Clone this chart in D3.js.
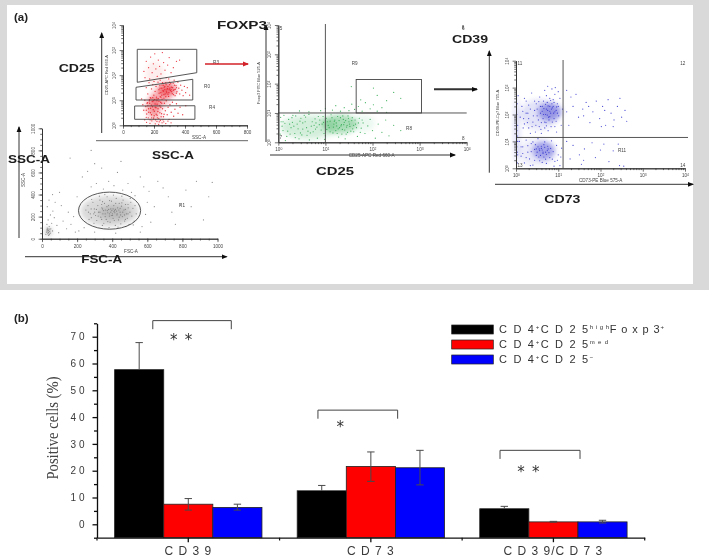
<!DOCTYPE html>
<html><head><meta charset="utf-8">
<script src="https://cdn.jsdelivr.net/npm/d3@7/dist/d3.min.js"></script>
<style>
html,body{margin:0;padding:0;background:#fff}
svg{display:block}
</style></head><body><svg id="c" width="709" height="558" font-family="'Liberation Sans',Arial,sans-serif"></svg>
<script>
// ---------- panel (b) data ----------
const categories = ["C D 3 9","C D 7 3","C D 3 9/C D 7 3"];
const seriesNames = ["high","med","neg"];
const seriesColors = ["#000000","#ff0000","#0000ff"];
const highValues = [57.7,12.5,5.8];
const highErrUp  = [67.8,14.5,6.7];
const medValues  = [7.5,21.6,0.9];
const medErrUp   = [9.6,27.0,1.1];
const medErrLow  = [5.3,16.0,0.8];
const negValues  = [6.3,21.1,0.9];
const negErrUp   = [7.5,27.6,1.5];
const negErrLow  = [5.3,14.7,0.5];
const yMajorTicks = [0,10,20,30,40,50,60,70];
const yMinorTicks = [-5,5,15,25,35,45,55,65,75];

// ---------- panel (a) data: [x, y], log axes as decades (exponents) ----------
const grayPoints = [[250,260],[262,300],[275,225],[281,190],[290,330],[298,270],[305,210],[312,165],[318,300],[322,240],[330,350],[335,195],[341,280],[347,225],[352,140],[356,320],[361,260],[366,175],[371,380],[375,235],[379,300],[384,205],[388,150],[392,270],[396,340],[401,225],[405,185],[409,300],[414,255],[418,120],[423,365],[427,215],[431,280],[436,170],[440,320],[445,240],[449,135],[453,295],[458,200],[462,350],[467,260],[471,160],[476,310],[481,225],[486,185],[491,280],[496,130],[501,240],[506,330],[512,205],[518,275],[525,160],[530,300],[537,225],[268,175],[283,355],[296,140],[327,385],[344,120],[358,400],[382,100],[407,395],[433,105],[455,385],[478,110],[503,365],[520,125],[340,310],[370,290],[395,210],[415,235],[425,250],[380,265],[360,225],[350,255],[405,270],[445,275],[470,215],[300,240],[320,205],
[330,240],[345,270],[360,200],[372,255],[385,225],[392,240],[398,255],[402,210],[410,245],[418,265],[428,225],[438,260],[448,215],[460,240],[475,265],[490,225],[310,265],[295,225],[280,270],[265,240],[340,175],[375,155],[412,165],[440,195],[475,175],[345,335],[385,345],[420,320],[455,325],[490,310],[30,70],[35,55],[40,90],[45,80],[33,85],[42,40],[38,60],[28,80],
[25,60],[30,95],[33,45],[36,75],[38,30],[41,110],[44,65],[47,50],[50,90],[28,130],[55,140],[35,170],[60,70],[22,40],[48,215],[70,190],[62,250],[30,290],[85,120],[95,55],[110,300],[120,160],[140,90],[150,240],[165,130],[180,200],[190,60],[75,330],[60,400],[100,420],[40,350],
[200,380],[230,560],[260,610],[280,470],[310,500],[340,640],[350,450],[380,520],[410,480],[430,600],[460,440],[490,500],[510,420],[530,390],[560,560],[580,470],[600,330],[610,430],[640,290],[660,520],[690,460],[720,380],[740,240],[760,130],[790,310],[820,440],[850,290],[880,520],[920,170],[950,380],[970,510],[590,220],[620,150],[570,110],[240,100],[210,70],[300,60],[420,50],[560,60],[160,730],[280,800],[630,960],[450,700],[300,680]];
const grayClouds = [[385,250,165,140,.28],[410,235,90,70,.3],[36,65,18,40,.4]];

const redPoints = [[150,2.55],[165,2.3],[178,2.72],[188,2.1],[196,2.45],[205,2.85],[212,2.25],[221,1.95],[228,2.6],[236,2.35],[245,2.05],[254,2.9],[262,2.5],[271,2.2],[279,1.9],[288,2.4],[298,2.7],[310,2.1],[325,2.3],[345,2.55],[135,2.15],[142,1.9],[172,1.85],[200,1.75],[240,1.8],[295,1.85],[330,1.8],[365,2.6],
[150,1.5],[160,1.25],[168,1.7],[176,1.1],[184,1.45],[192,1.62],[199,1.2],[207,1.35],[213,1.55],[219,1.05],[226,1.72],[233,1.28],[239,1.48],[245,1.12],[252,1.6],[258,1.38],[264,1.22],[270,1.55],[276,1.7],[282,1.3],[288,1.46],[294,1.15],[300,1.62],[306,1.38],[312,1.52],[318,1.26],[324,1.68],[330,1.42],[336,1.18],[342,1.58],[348,1.34],[354,1.72],[360,1.48],[366,1.25],[372,1.6],[380,1.4],[388,1.18],[396,1.55],[404,1.3],[415,1.5],[430,1.2],
[232,1.42],[238,1.58],[244,1.3],[250,1.48],[255,1.7],[261,1.36],[266,1.52],[272,1.25],[278,1.62],[284,1.44],[290,1.55],[296,1.3],[302,1.48],[308,1.66],[314,1.34],[320,1.5],[326,1.22],[332,1.6],[338,1.44],[344,1.28],[298,1.42],[280,1.36],[262,1.6],[270,1.42],[290,1.24],[310,1.42],[250,1.2],[325,1.4],[300,1.72],[345,1.5],
[120,1.05],[128,.82],[134,.6],[141,1.0],[147,.75],[153,.45],[159,.9],[165,.66],[171,1.02],[177,.5],[183,.8],[189,.95],[195,.62],[201,.38],[207,.85],[213,.7],[219,.98],[225,.55],[231,.28],[237,.78],[243,.92],[249,.46],[255,.66],[261,.34],[267,.88],[273,.58],[279,.98],[285,.42],[291,.72],[297,.24],[303,.82],[311,.52],[319,.92],[327,.36],[335,.64],[345,.86],[355,.48],[368,.72],[385,.42],[405,.78],
[160,.78],[166,.52],[172,.88],[178,.68],[184,.42],[190,.74],[196,.98],[202,.56],[208,.72],[214,.44],[220,.84],[226,.66],[232,.96],[238,.5],[244,.72],[250,.88],[170,.98],[180,1.08],[192,1.1],[204,1.02],[216,1.12],[228,1.06],[240,1.14],[252,1.04],[264,1.08],[276,1.14],[150,.6],[155,.88],[198,.3],[210,.22],[222,.3],[234,.14],[246,.34],[258,.22],[185,.3],[175,.22],
[140,.22],[152,.12],[163,.3],[174,.08],[186,.18],[197,.26],[208,.06],[219,.16],[230,.04],[241,.2],[252,.1],[263,.14],[276,.07],[290,.17],[310,.1],[150,.32],[220,.4],[265,.44]];
const redClouds = [[285,1.42,58,.28,.6],[195,.75,45,.4,.45],[240,1.1,60,.4,.3],[215,.32,45,.22,.15],[205,2.05,60,.5,.07]];

const greenPoints = [[.05,.85],[.1,.4],[.14,.65],[.18,.2],[.22,.78],[.27,.5],[.31,.92],[.35,.3],[.4,.62],[.44,.12],[.48,.82],[.52,.45],[.57,.7],[.61,.24],[.65,.95],[.7,.55],[.74,.36],[.78,.8],[.83,.14],[.87,.6],[.91,.42],[.95,.88],[1,.22],[1.04,.7],[1.08,.5],[1.12,.94],[1.16,.32],[1.2,.76],[1.24,.56],[1.28,.18],[1.32,.84],[1.36,.44],[1.4,.68],[1.44,.28],[1.48,.9],[1.52,.54],[1.56,.74],[1.6,.36],[1.64,.62],[1.68,.2],[1.72,.82],[1.76,.48],[1.8,.66],[1.84,.3],[1.9,.56],[1.95,.78],[2,.4],[2.06,.14],[2.12,.62],[2.2,.34],[2.28,.76],[2.35,.22],[2.45,.58],[2.6,.4],
[.08,.55],[.2,.38],[.3,.68],[.42,.46],[.55,.92],[.66,.08],[.76,.58],[.88,.76],[.98,.1],[1.1,.72],[1.22,.4],[1.34,.6],[1.42,.12],[1.5,.7],[1.58,.46],[.15,.06],[.37,.9],[.6,.5],[.8,.66],[1.03,.44],[1.26,.88],[1.46,.58],[1.18,.62],[1.3,.5],[1.38,.78],[1.25,.3],
[.1,.7],[.25,.28],[.33,.55],[.46,.72],[.5,.25],[.58,.86],[.63,.38],[.72,.7],[.79,.45],[.85,.88],[.93,.62],[.97,.3],[1.02,.82],[1.06,.58],[1.1,.36],[1.14,.84],[1.17,.52],[1.19,.72],[1.23,.66],[1.27,.46],[1.29,.74],[1.33,.56],[1.35,.28],[1.37,.9],[1.39,.6],[1.41,.42],[1.43,.74],[1.45,.52],[1.47,.34],[1.49,.82],[1.51,.62],[1.54,.38],[1.57,.84],[1.6,.58],[1.63,.76],[1.66,.5],[1.7,.66],[1.74,.34],[1.78,.76],[.12,.92],[.24,.62],[.36,.16],[.52,.66],[.68,.32],[.82,.52],[.96,.68],[.04,.28],[.06,.7],[.29,.84],[.47,.32],
[.9,1.08],[1,1.15],[1.15,1.1],[1.22,1.25],[1.32,1.06],[1.4,1.18],[1.5,1.08],[1.56,1.3],[1.62,1.12],[1.7,1.22],[1.78,1.06],[1.85,1.35],[1.95,1.14],[2.02,1.28],[2.1,1.06],[2.2,1.18],[2.3,1.42],[2.1,1.6],[2.02,1.85],[2.3,1.02],[2.45,1.7],[2.6,1.5],[1.75,1.45],[.65,1.04],[.45,1.07],[1.55,1.9]];
const greenClouds = [[1.3,.62,.38,.32,.4],[.65,.52,.6,.4,.2],[1.8,.65,.25,.28,.08]];

const bluePoints = [[.03,2.4],[.02,2],[.04,1.6],[.03,1.2],[.02,.8],[.04,.5],[.03,.2],[.05,2.7],[.02,1.4],[.04,1],[.03,.6],
[.1,1.9],[.14,2.3],[.17,1.5],[.2,2.6],[.24,2.05],[.27,1.7],[.3,2.35],[.34,1.3],[.37,2.8],[.41,1.95],[.44,2.5],[.47,1.6],[.5,2.2],[.53,1.8],[.56,2.65],[.59,1.45],[.62,2.3],[.65,2],[.68,2.9],[.71,1.7],[.74,2.45],[.77,1.9],[.8,2.6],[.83,1.55],[.86,2.25],[.89,2.05],[.92,2.75],[.95,1.75],[.98,2.4],[1.01,1.95],[1.04,2.6],[1.07,1.6],[1.1,2.2],[.75,2.15],[.85,2.4],[.95,2.15],[.7,2],[.8,2.3],[.9,1.85],[.65,2.5],[.78,1.8],[.88,2.55],[.6,1.7],[1,2.3],[.72,2.7],[.82,2.05],[.58,2.05],[.48,2.4],[.38,1.55],[.28,2.05],[.18,1.85],[.68,1.5],[.93,3.0],[.75,3.05],[.85,2.95],[1.0,2.85],
[.72,2.2],[.76,2.32],[.8,2.12],[.84,2.2],[.88,2.3],[.92,2.1],[.96,2.28],[.7,2.38],[.66,2.22],[.62,2.12],[.74,1.98],[.82,2.52],[.9,2.45],[.98,2.05],[.58,2.3],[.54,2.48],[.5,1.95],[.44,2.15],[.4,1.72],[.34,2.2],[.3,1.85],[.24,2.5],[.2,1.65],[.16,2.12],[.64,1.85],[.68,1.72],[.72,1.58],[.8,1.92],[.86,1.72],[.92,1.55],[.55,1.55],[.46,1.35],[.76,1.4],[.96,1.35],[.6,1.3],[.3,1.5],
[.08,1],[.12,.45],[.16,.8],[.2,.2],[.24,1.05],[.28,.6],[.32,.35],[.36,.92],[.4,.12],[.44,.7],[.48,.48],[.52,1.1],[.56,.28],[.6,.82],[.64,.55],[.68,.98],[.72,.18],[.76,.72],[.8,.4],[.84,1.02],[.88,.62],[.92,.26],[.96,.85],[1,.5],[1.04,.1],[1.08,.75],[.62,.68],[.7,.6],[.55,.72],[.66,.42],[.5,.6],[.75,.82],[.58,.48],[.46,.88],[.34,.1],[.9,.08],
[.56,.66],[.6,.74],[.64,.6],[.68,.78],[.72,.52],[.74,.66],[.78,.58],[.52,.8],[.48,.72],[.44,.3],[.36,.62],[.28,.84],[.24,.4],[.82,.74],[.86,.34],[.7,.34],[.62,.22],[.54,.42],[.4,.98],[.66,.88],[.16,.55],[.12,.8],[.98,.3],[1.06,.42],
[1.2,2.9],[1.3,2.65],[1.42,2.75],[1.2,2.1],[1.35,2.3],[1.48,1.9],[1.58,2.2],[1.66,2.45],[1.75,1.7],[1.82,2.1],[1.9,2.5],[1.98,1.85],[2.05,2.3],[2.12,1.6],[2.18,2.55],[2.25,2.05],[2.32,1.8],[2.4,2.3],[2.46,2.6],[2.5,1.9],[2.58,2.15],[2.62,1.75],[1.6,1.95],[1.72,2.3],[2.1,2.15],[2.02,1.55],[2.3,1.55],[1.25,1.6],
[1.2,1],[1.28,.35],[1.35,.85],[1.5,.5],[1.55,.15],[1.62,.72],[1.8,.95],[1.88,.4],[2,.68],[2.08,.9],[2.2,.25],[2.3,.65],[2.42,.9],[1.6,.3],[2.45,.1],[2.55,.08]];
const blueClouds = [[.8,2.1,.28,.34,.45],[.55,2,.45,.55,.14],[.65,.66,.26,.34,.4],[.5,.6,.45,.5,.1],[.02,1.4,.04,1.2,.3]];

// ---------- shared ----------
const svg = d3.select("#c");
const FONT_SERIF = '"Liberation Serif","Times New Roman",serif';
const defs = svg.append("defs");
defs.append("filter").attr("id","soft").attr("x","-5%").attr("y","-5%").attr("width","110%").attr("height","110%")
  .append("feGaussianBlur").attr("stdDeviation",.3);
defs.append("filter").attr("id","softer").attr("x","-5%").attr("y","-5%").attr("width","110%").attr("height","110%")
  .append("feGaussianBlur").attr("stdDeviation",.28);
defs.append("filter").attr("id","haze").attr("x","-40%").attr("y","-40%").attr("width","180%").attr("height","180%")
  .append("feGaussianBlur").attr("stdDeviation",2.4);
[["ah","#111"],["ahr","#d3202a"]].forEach(([id,col])=>{
  defs.append("marker").attr("id",id).attr("viewBox","0 0 6 6").attr("refX",5).attr("refY",3)
    .attr("markerWidth",6).attr("markerHeight",6).attr("markerUnits","userSpaceOnUse").attr("orient","auto")
    .append("path").attr("d","M0,0.6L6,3L0,5.4Z").attr("fill",col);
});

// frame
svg.append("rect").attr("width",709).attr("height",290).attr("fill","#d9d9d9");
svg.append("rect").attr("x",7).attr("y",5).attr("width",686).attr("height",279).attr("fill","#fff");

const A = svg.append("g").attr("filter","url(#soft)");

function arrow(x1,y1,x2,y2,sw=1,col="#333",m="ah"){
  A.append("line").attr("x1",x1).attr("y1",y1).attr("x2",x2).attr("y2",y2)
   .attr("stroke",col).attr("stroke-width",sw).attr("marker-end",`url(#${m})`);
}
function bold(t,cx,cy,w){
  A.append("text").attr("x",cx).attr("y",cy).attr("text-anchor","middle").attr("dominant-baseline","central")
   .attr("font-size",11.5).attr("font-weight",700).attr("fill","#1c1c1c")
   .attr("textLength",w).attr("lengthAdjust","spacingAndGlyphs").text(t);
}
function tiny(t,x,y,opt={}){
  const e=A.append("text").attr("x",x).attr("y",y).attr("text-anchor","middle").attr("dominant-baseline","central")
   .attr("font-size",opt.size||4.6).attr("fill","#444").text(t);
  if(opt.rot) e.attr("transform",`rotate(-90 ${x} ${y})`);
  return e;
}
function logMinor(n){const a=[];for(let e=0;e<n;e++)for(let k=2;k<=9;k++)a.push(k*10**e);return a;}
function logMajor(n){return d3.range(n+1).map(e=>10**e);}
function expLabel(sel){
  sel.each(function(d){
    const t=d3.select(this), e=Math.round(Math.log10(d));
    t.text("10").append("tspan").attr("dy",-1.4).attr("font-size",3.4).text(e);
  });
}
function drawAxes(G,xS,yS,cfg){
  const ax=G.append("g").attr("transform",`translate(0,${yS.range()[0]})`).attr("fill","none");
  const ay=G.append("g").attr("transform",`translate(${xS.range()[0]},0)`);
  const lb=g=>{g.selectAll(".domain").attr("stroke","#333").attr("stroke-width",.9);
    g.selectAll(".tick line").attr("stroke","#333").attr("stroke-width",.7);
    g.selectAll("text").attr("font-size",4.6).attr("fill","#444").attr("font-family",'"Liberation Sans",sans-serif');};
  ax.call(d3.axisBottom(xS).tickValues(cfg.xMinor).tickSize(1.8).tickSizeOuter(0).tickFormat("")).call(lb);
  ax.append("g").call(d3.axisBottom(xS).tickValues(cfg.xMajor).tickSize(3.4).tickSizeOuter(0).tickPadding(2.2)
     .tickFormat(cfg.log?d=>d:d3.format("d"))).call(lb).call(g=>{ if(cfg.log) g.selectAll(".tick text").call(expLabel); });
  ay.call(d3.axisLeft(yS).tickValues(cfg.yMinor).tickSize(1.8).tickSizeOuter(0).tickFormat("")).call(lb);
  ay.append("g").call(d3.axisLeft(yS).tickValues(cfg.yMajor).tickSize(3.4).tickSizeOuter(0).tickPadding(2.2)
     .tickFormat(cfg.log?d=>d:d3.format("d"))).call(lb).call(g=>{
       if(cfg.log) g.selectAll(".tick text").call(expLabel);
       g.selectAll(".tick text").attr("text-anchor","middle").attr("dy",0).attr("x",0).attr("y",0)
        .attr("transform","translate(-7,0) rotate(-90)");
     });
}
function drawDots(G,pts,clouds,px,py,col,r,op,sx,sy){
  G.append("g").attr("filter","url(#haze)").selectAll("ellipse").data(clouds).join("ellipse")
    .attr("cx",d=>px(d[0])).attr("cy",d=>py(d[1]))
    .attr("rx",d=>Math.abs(sx(d[2]))).attr("ry",d=>Math.abs(sy(d[3])))
    .attr("fill",col).attr("opacity",d=>d[4]);
  G.append("g").selectAll("circle").data(pts).join("circle")
    .attr("cx",d=>px(d[0])).attr("cy",d=>py(d[1])).attr("r",r).attr("fill",col).attr("opacity",op);
}

// ---- FSC / SSC
{
  const x=d3.scaleLinear().domain([0,1000]).range([42,217.5]);
  const y=d3.scaleLinear().domain([0,1000]).range([238.7,128.3]);
  const G=A.append("g");
  drawDots(G,grayPoints,grayClouds,x,y,"#777",.6,.85,d=>x(d)-x(0),d=>y(d)-y(0));
  G.append("ellipse").attr("cx",x(385)).attr("cy",y(254)).attr("rx",x(177)-x(0)).attr("ry",y(0)-y(168))
    .attr("fill","none").attr("stroke","#444").attr("stroke-width",.9);
  drawAxes(G,x,y,{xMajor:d3.range(0,1001,200),xMinor:d3.range(0,1001,50),yMajor:d3.range(0,1001,200),yMinor:d3.range(0,1001,50)});
  tiny("FSC-A",131,251);
  tiny("SSC-A",23.5,180,{rot:true});
  tiny("R1",182,205.5);
  arrow(19,238,19,127);
  arrow(25,256.7,226.7,256.7);
  bold("SSC-A",29,159,42);
  bold("FSC-A",101.7,259.3,41);
}
// ---- CD25 / SSC
{
  const x=d3.scaleLinear().domain([0,800]).range([123,247]);
  const y=d3.scaleLinear().domain([0,4]).range([125.3,25]);
  const ly=d3.scaleLog().domain([1,1e4]).range([125.3,25]);
  const G=A.append("g");
  drawDots(G,redPoints,redClouds,x,y,"#e8222e",.65,.9,d=>x(d)-x(0),d=>y(d)-y(0));
  const gates=[[[92,3.03],[476,3.03],[476,2.098],[92,1.715]],[[84,1.516],[450,1.835],[450,1.009],[84,1.009]],[[75,.77],[464,.78],[464,.24],[75,.24]]];
  G.selectAll("path.gate").data(gates).join("path").attr("class","gate")
    .attr("d",d=>d3.line().x(p=>x(p[0])).y(p=>y(p[1])).curve(d3.curveLinearClosed)(d))
    .attr("fill","none").attr("stroke","#444").attr("stroke-width",.9);
  drawAxes(G,x,ly,{log:false,xMajor:d3.range(0,801,200),xMinor:d3.range(0,801,50),yMajor:[],yMinor:logMinor(4)});
  G.append("g").attr("transform",`translate(123,0)`).call(d3.axisLeft(ly).tickValues(logMajor(4)).tickSize(3.4).tickSizeOuter(0).tickPadding(2))
   .call(g=>{g.select(".domain").remove();g.selectAll(".tick line").attr("stroke","#333").attr("stroke-width",.7);
     g.selectAll(".tick text").attr("font-size",4.6).attr("fill","#444").attr("text-anchor","middle").attr("font-family",'"Liberation Sans",sans-serif').call(expLabel)
      .attr("dy",0).attr("x",0).attr("y",0).attr("transform","translate(-7,0) rotate(-90)");});
  tiny("SSC-A",199,137);
  tiny("CD25-APC Red 660-A",106.5,75,{rot:true,size:4});
  tiny("R3",216,62);tiny("R0",207,86);tiny("R4",212,107);
  arrow(101.7,133,101.7,33);
  A.append("line").attr("x1",96).attr("y1",140.7).attr("x2",248).attr("y2",140.7).attr("stroke","#555").attr("stroke-width",.9);
  bold("CD25",76.7,68.3,36);
  bold("SSC-A",173,155.3,42);
  arrow(205,64,248,64,1.5,"#d3202a","ahr");
}
// ---- FOXP3 / CD25
{
  const x=d3.scaleLog().domain([1,1e4]).range([278.3,466.7]);
  const y=d3.scaleLog().domain([1,1e4]).range([142.3,25]);
  const px=e=>x(10**e), py=e=>y(10**e);
  const G=A.append("g");
  drawDots(G,greenPoints,greenClouds,px,py,"#2aa84c",.6,.9,d=>px(d)-px(0),d=>py(d)-py(0));
  G.append("line").attr("x1",x(10)).attr("x2",x(10)).attr("y1",24).attr("y2",y(1)).attr("stroke","#444").attr("stroke-width",.9);
  G.append("line").attr("x1",x(1)).attr("x2",x(1e4)).attr("y1",y(10)).attr("y2",y(10)).attr("stroke","#444").attr("stroke-width",.9);
  G.append("rect").attr("x",x(45)).attr("width",x(1100)-x(45)).attr("y",y(138)).attr("height",y(10)-y(138))
    .attr("fill","none").attr("stroke","#444").attr("stroke-width",.9);
  drawAxes(G,x,y,{log:true,xMajor:logMajor(4),xMinor:logMinor(4),yMajor:logMajor(4),yMinor:logMinor(4)});
  tiny("Foxp3 FITC Blue 525-A",258,83,{rot:true,size:4});
  tiny("R9",354.7,63.7);tiny("R8",409,128.7);
  tiny("5",281,28);tiny("7",280.7,137.7);tiny("6",463.3,28);tiny("8",463.3,138);
  arrow(266,142,266,25);
  arrow(270,155,455,155);
  tiny("CD25-APC Red 660-A",371.7,155.7);
  bold("FOXP3",242,25.3,50);
  bold("CD25",335,170.7,38);
  arrow(434,89.3,477,89.3,2);
}
// ---- CD39 / CD73
{
  const x=d3.scaleLog().domain([1,1e4]).range([516,685]);
  const y=d3.scaleLog().domain([1,1e4]).range([168.3,60.7]);
  const px=e=>x(10**e), py=e=>y(10**e);
  const G=A.append("g");
  drawDots(G,bluePoints,blueClouds,px,py,"#3636cf",.6,.9,d=>px(d)-px(0),d=>py(d)-py(0));
  G.append("line").attr("x1",x(13)).attr("x2",x(13)).attr("y1",60).attr("y2",y(1)).attr("stroke","#444").attr("stroke-width",.9);
  G.append("line").attr("x1",x(1)).attr("x2",688).attr("y1",y(14)).attr("y2",y(14)).attr("stroke","#444").attr("stroke-width",.9);
  drawAxes(G,x,y,{log:true,xMajor:logMajor(4),xMinor:logMinor(4),yMajor:logMajor(4),yMinor:logMinor(4)});
  tiny("CD39-PE-Cy7 Blue 705-A",497.3,113,{rot:true,size:4});
  tiny("CD73-PE Blue 575-A",600.7,180.3);
  tiny("R11",622,150);tiny("11",520,63);tiny("12",682.7,63);tiny("13",520,165);tiny("14",682.7,165);
  tiny("8",463,27.7);
  arrow(489.3,172.7,489.3,51);
  arrow(495,184.3,693,184.3);
  bold("CD39",470,39.3,36);
  bold("CD73",562.3,199,36);
}
A.append("text").attr("x",14).attr("y",21).attr("font-size",11.5).attr("font-weight",700).attr("fill","#222").text("(a)");

// ---------- panel (b) ----------
const B = svg.append("g").attr("filter","url(#softer)");
B.append("text").attr("x",14).attr("y",322).attr("font-size",11.5).attr("font-weight",700).attr("fill","#222").text("(b)");

const y = d3.scaleLinear().domain([-5,75]).range([537.7,323.3]);
const x0 = d3.scaleBand().domain(categories).range([97,644.7]).paddingInner(.193).paddingOuter(.0965);
const x1 = d3.scaleBand().domain(seriesNames).range([0,x0.bandwidth()]);

const rows = categories.map((c,i)=>[
  {c,s:"high",v:highValues[i],hi:highErrUp[i],lo:highValues[i]},
  {c,s:"med",v:medValues[i],hi:medErrUp[i],lo:medErrLow[i]},
  {c,s:"neg",v:negValues[i],hi:negErrUp[i],lo:negErrLow[i]}
]).flat();
const color = d3.scaleOrdinal(seriesNames,seriesColors);

B.selectAll("rect.bar").data(rows).join("rect").attr("class","bar")
  .attr("x",d=>x0(d.c)+x1(d.s)).attr("width",x1.bandwidth())
  .attr("y",d=>y(d.v)).attr("height",d=>y(-5)-y(d.v))
  .attr("fill",d=>color(d.s)).attr("stroke","#222").attr("stroke-width",.8);

const eb = B.selectAll("g.err").data(rows).join("g").attr("class","err")
  .attr("transform",d=>`translate(${x0(d.c)+x1(d.s)+x1.bandwidth()/2},0)`)
  .attr("stroke","#4a4a4a").attr("stroke-width",1);
eb.append("line").attr("y1",d=>y(d.lo)).attr("y2",d=>y(d.hi));
eb.append("line").attr("x1",-3.7).attr("x2",3.7).attr("y1",d=>y(d.hi)).attr("y2",d=>y(d.hi));
eb.filter(d=>d.lo<d.v).append("line").attr("x1",-3.7).attr("x2",3.7).attr("y1",d=>y(d.lo)).attr("y2",d=>y(d.lo));

// axes
const axisStyle = g=>{g.selectAll(".domain,.tick line").attr("stroke","#111").attr("stroke-width",1.3);
  g.selectAll("text").attr("fill","#3a3a3a").attr("font-family",'"Liberation Sans",sans-serif');};
B.append("g").attr("transform","translate(97,0)")
  .call(d3.axisLeft(y).tickValues(yMinorTicks).tickSize(3).tickSizeOuter(0).tickFormat("")).call(axisStyle);
B.append("g").attr("transform","translate(97,0)")
  .call(d3.axisLeft(y).tickValues(yMajorTicks).tickSize(4.5).tickSizeOuter(0).tickPadding(8)
    .tickFormat(d=>String(d).split("").join(" "))).call(axisStyle)
  .call(g=>{g.select(".domain").remove();g.selectAll("text").attr("font-size",10).attr("dy","0.32em").attr("dx",0);});
B.append("g").attr("transform","translate(0,537.7)")
  .call(d3.axisBottom(x0).tickSize(4.5).tickSizeOuter(0).tickPadding(4.2)).call(axisStyle)
  .call(g=>{g.selectAll("text").attr("font-size",12).attr("letter-spacing",1);});
const xEdges = d3.range(0,4).map(i=>97+i*x0.step());
B.append("g").selectAll("line").data(xEdges).join("line")
  .attr("x1",d=>d).attr("x2",d=>d).attr("y1",537.7).attr("y2",540.5).attr("stroke","#111").attr("stroke-width",1.2);

B.append("text").attr("transform","translate(52,428) rotate(-90)").attr("text-anchor","middle")
  .attr("dominant-baseline","central").attr("font-family",FONT_SERIF).attr("font-size",17).attr("fill","#444")
  .attr("textLength",103).attr("lengthAdjust","spacingAndGlyphs").text("Positive cells (%)");

// brackets
const brackets = [
  {c:0,a:-35.5,b:43,top:76,bot:72.8,stars:"* *",sx:-6.5,sv:69.5},
  {c:1,a:-52.9,b:26.8,top:42.6,bot:39.4,stars:"*",sx:-29.9,sv:37},
  {c:2,a:-53.4,b:26.6,top:27.6,bot:24.4,stars:"* *",sx:-24.4,sv:20.2}
];
brackets.forEach(b=>{
  const cx=x0(categories[b.c])+x0.bandwidth()/2;
  B.append("path").attr("fill","none").attr("stroke","#444").attr("stroke-width",1)
   .attr("d",`M${cx+b.a},${y(b.bot)}V${y(b.top)}H${cx+b.b}V${y(b.bot)}`);
  B.append("text").attr("x",cx+b.sx).attr("y",y(b.sv)+7).attr("text-anchor","middle")
   .attr("font-size",15).attr("letter-spacing",1.2).attr("fill","#333").attr("font-family",'"DejaVu Sans",sans-serif').text(b.stars);
});

// legend
const legendRows=[
  {s:"high",parts:[["C D 4",0,1.7],["+",1,1.5],["C D 2 5",0,1.7],["h i g h",1,.5],["F o x p 3",0,.9],["+",1,1]]},
  {s:"med",parts:[["C D 4",0,1.7],["+",1,1.5],["C D 2 5",0,1.7],["m e d",1,.8]]},
  {s:"neg",parts:[["C D 4",0,1.7],["+",1,1.5],["C D 2 5",0,1.7],["\u2212",1,1]]}
];
legendRows.forEach((r,i)=>{
  const cy=329.5+i*15;
  B.append("rect").attr("x",451.7).attr("y",cy-4.5).attr("width",41.6).attr("height",9)
   .attr("fill",color(r.s)).attr("stroke","#222").attr("stroke-width",.7);
  const t=B.append("text").attr("x",499).attr("y",cy+3.8).attr("font-size",11).attr("fill","#333");
  let raised=false;
  r.parts.forEach(([s,sup,ls])=>{
    const sp=t.append("tspan").attr("font-size",sup?6:11).attr("letter-spacing",ls).text(s);
    if(sup&&!raised){sp.attr("dy",-4);raised=true;}
    else if(!sup&&raised){sp.attr("dy",4);raised=false;}
  });
});
</script></body></html>
